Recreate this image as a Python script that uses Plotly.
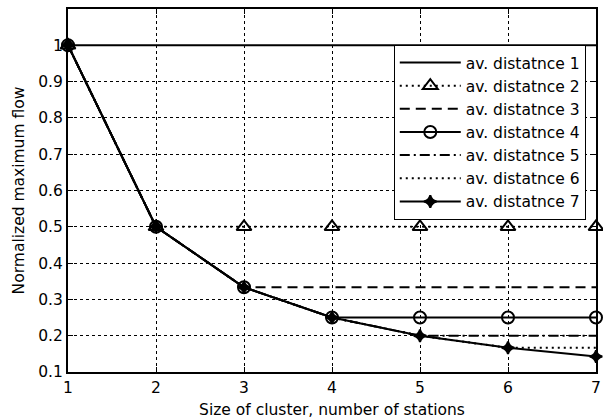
import plotly.graph_objects as go

x = [1, 2, 3, 4, 5, 6, 7]
s1 = [1, 1, 1, 1, 1, 1, 1]
s2 = [1, 0.5, 0.5, 0.5, 0.5, 0.5, 0.5]
s3 = [1, 0.5, 1/3, 1/3, 1/3, 1/3, 1/3]
s4 = [1, 0.5, 1/3, 0.25, 0.25, 0.25, 0.25]
s5 = [1, 0.5, 1/3, 0.25, 0.2, 0.2, 0.2]
s6 = [1, 0.5, 1/3, 0.25, 0.2, 1/6, 1/6]
s7 = [1, 0.5, 1/3, 0.25, 0.2, 1/6, 1/7]
names = ["av. distatnce 1", "av. distatnce 2", "av. distatnce 3", "av. distatnce 4",
         "av. distatnce 5", "av. distatnce 6", "av. distatnce 7"]
series = [s1, s2, s3, s4, s5, s6, s7]
yticks = [0.1, 0.2, 0.3, 0.4, 0.5, 0.6, 0.7, 0.8, 0.9, 1]
yticklabels = ["0.1", "0.2", "0.3", "0.4", "0.5", "0.6", "0.7", "0.8", "0.9", "1"]

styles = [
    dict(dash="solid", mode="lines", symbol=None),
    dict(dash="2px,4px", mode="lines+markers", symbol="triangle-up-open"),
    dict(dash="10px,6px", mode="lines", symbol=None),
    dict(dash="solid", mode="lines+markers", symbol="circle-open"),
    dict(dash="10px,4px,2px,4px", mode="lines", symbol=None),
    dict(dash="2px,4px", mode="lines", symbol=None),
    dict(dash="solid", mode="lines+markers", symbol="star-diamond"),
]
sizes = [0, 13, 0, 12, 0, 0, 9]

fig = go.Figure()
for name, ys, st, sz in zip(names, series, styles, sizes):
    kw = dict(x=x, y=ys, name=name, mode=st["mode"], cliponaxis=False,
              line=dict(color="black", width=2, dash=st["dash"]))
    if st["symbol"]:
        kw["marker"] = dict(symbol=st["symbol"], size=sz, color="black",
                            line=dict(color="black", width=2))
    fig.add_trace(go.Scatter(**kw))

FAM = "DejaVu Sans, Liberation Sans, Arial, sans-serif"
font = dict(family=FAM, size=15.5, color="black")
axis_common = dict(showline=True, linecolor="black", linewidth=2, mirror="ticks",
                   ticks="inside", ticklen=5, tickwidth=1, tickcolor="black",
                   showgrid=True, gridcolor="black", gridwidth=1, griddash="dot",
                   zeroline=False, tickfont=font, automargin=False)
fig.update_xaxes(range=[1, 7], tickvals=x, ticktext=[str(v) for v in x],
                 title=dict(text="Size of cluster, number of stations", font=font,
                            standoff=9),
                 **axis_common)
fig.update_yaxes(range=[0.1, 1.1], tickvals=yticks, ticktext=yticklabels,
                 title=dict(text="Normalized maximum flow", font=font, standoff=10),
                 **axis_common)
fig.update_layout(
    width=603, height=419,
    margin=dict(l=68, r=7, t=9, b=47),
    plot_bgcolor="white", paper_bgcolor="white",
    font=font,
    legend=dict(x=0.617, y=0.901, xanchor="left", yanchor="top",
                bgcolor="white", bordercolor="black", borderwidth=1,
                font=font, tracegroupgap=0, itemwidth=61),
    showlegend=True,
)
fig.write_html("out.html")
